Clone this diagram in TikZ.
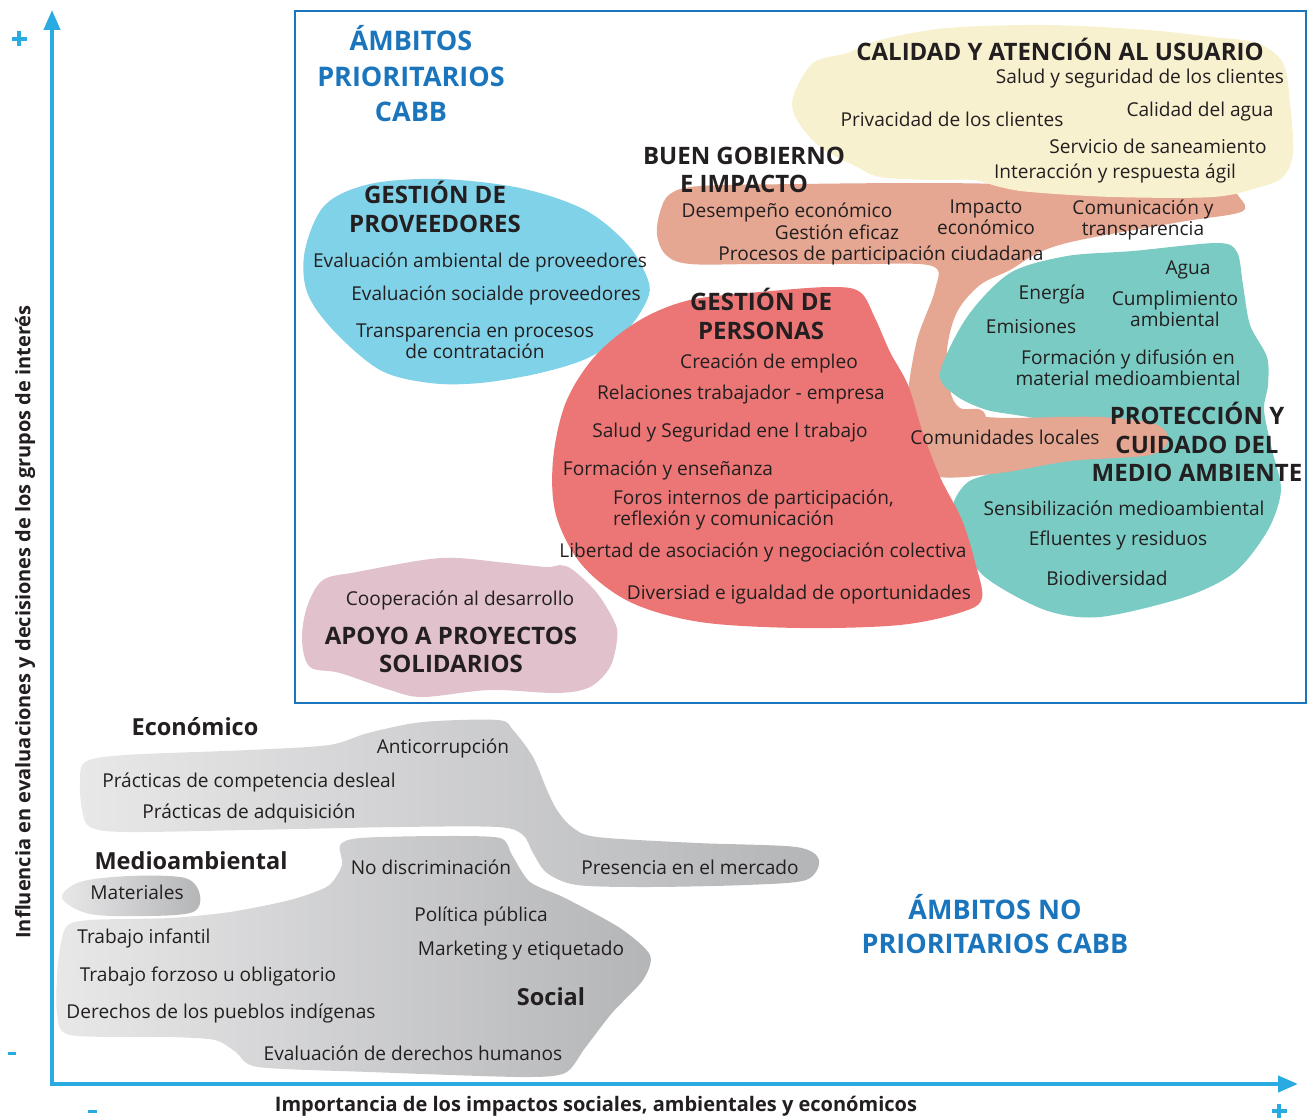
\documentclass[tikz,border=0pt]{standalone}
\usepackage{fontspec}
\setmainfont{Open Sans}
\usetikzlibrary{arrows.meta}
\definecolor{ink}{HTML}{231F20}
\definecolor{axis}{HTML}{29ABE2}
\definecolor{hblue}{HTML}{1B75BC}
\definecolor{yel}{HTML}{F8F1D0}
\definecolor{salm}{HTML}{E5A692}
\definecolor{redb}{HTML}{EC7676}
\definecolor{lblue}{HTML}{80D2E8}
\definecolor{teal}{HTML}{7ACBC3}
\definecolor{pinkb}{HTML}{E0C1CC}
\definecolor{gA}{HTML}{E8E8E9}
\definecolor{gB}{HTML}{B4B5B7}
\begin{document}
\begin{tikzpicture}[x=1pt,y=-1pt,
  every node/.style={inner sep=0pt,outer sep=0pt,text=ink},
  it/.style={font=\fontsize{19.1}{21}\selectfont, align=center, yshift=-2.5pt},
  hd/.style={font=\fontsize{24}{28.5}\selectfont\bfseries, align=center},
  bhd/.style={font=\fontsize{23.5}{28}\selectfont\bfseries, align=center},
  bl/.style={font=\fontsize{27}{35.5}\selectfont\bfseries, align=center, text=hblue},
  sym/.style={draw=axis, line width=3.5pt},
  axlab/.style={font=\fontsize{20}{22}\selectfont\bfseries},
  axline/.style={draw=axis, line width=4pt, -{Triangle[length=20pt,width=16pt]}},
  gray/.style={left color=gA, right color=gB}]
\useasboundingbox (0,0) rectangle (1308,1118);

% ---------- priority box ----------
\draw[hblue, line width=2pt] (295,11) rectangle (1306,703);

% salmon (buen gobierno) main
\fill[salm] plot[smooth cycle, tension=0.55] coordinates {
 (660,212) (670,194) (700,186) (800,184) (913,183) (1000,184) (1060,188) (1150,190) (1225,191) (1240,198) (1241,212) (1180,222) (1080,240) (1040,252) (1010,270) (980,285) (957,312) (947,350) (950,390) (960,408) (985,414)
 (985,470) (940,477) (920,472) (907,440) (907,400) (917,340) (935,290) (932,266) (860,264) (760,264) (690,264) (666,255) (657,235)};
% yellow (calidad)
\fill[yel] plot[smooth cycle, tension=0.55] coordinates {
 (793,97) (813,63) (847,53) (880,40) (947,28) (1047,25) (1147,30) (1213,37) (1257,43) (1283,63) (1290,103) (1293,153) (1283,177) (1260,187) (1213,197) (1113,197) (1030,192) (1000,187) (973,180) (930,180) (880,177) (857,167) (820,147) (797,120)};
% light blue (proveedores)
\fill[lblue] plot[smooth cycle, tension=0.55] coordinates {
 (305,250) (325,205) (370,184) (440,179) (520,188) (585,210) (628,245) (648,280) (647,300) (627,330) (590,357) (540,373) (480,383) (430,383) (380,370) (333,330) (307,292)};
% teal (medio ambiente)
\fill[teal] plot[smooth cycle, tension=0.5] coordinates {
 (940,373) (967,317) (1010,273) (1067,256) (1133,251) (1217,243) (1237,252) (1243,285) (1250,325) (1267,357) (1268,385) (1264,410) (1272,450) (1281,490) (1268,530) (1235,572) (1185,597) (1100,617) (1045,610) (985,577) (957,537) (953,505) (968,482) (1000,470) (1060,440) (1040,420) (987,410) (955,395)};
% salmon tongue (comunidades locales)
\fill[salm] plot[smooth cycle, tension=0.55] coordinates {
 (930,418) (1010,418) (1100,417) (1155,424) (1168,440) (1150,455) (1070,461) (1000,473) (940,477) (915,460)};
% red (personas)
\fill[redb] plot[smooth cycle, tension=0.55] coordinates {
 (640,320) (690,300) (760,292) (830,287) (860,292) (875,318) (890,352) (908,385) (922,430) (940,477) (962,520) (975,562) (982,598) (962,612) (900,625) (800,628) (700,622) (630,602) (582,565) (556,515) (553,460) (566,402) (596,355)};
% pink (apoyo)
\fill[pinkb] plot[smooth cycle, tension=0.55] coordinates {
 (323,580) (357,572) (423,560) (457,558) (507,563) (547,567) (560,565) (573,570) (597,593) (615,623) (617,640) (610,667) (590,687) (557,693) (490,690) (423,697) (390,690) (340,673) (310,667) (302,640) (307,607)};

% ---------- non priority grey areas ----------
\shade[gray] plot[smooth cycle, tension=0.5] coordinates {
 (85,762) (125,755) (249,750) (329,745) (368,733) (423,722) (498,720) (513,730) (533,757) (547,790) (557,810) (572,827) (597,837) (697,843) (796,847) (819,860) (806,880) (746,885) (647,887) (577,885) (547,873) (533,853) (523,835) (498,827) (398,827) (249,830) (125,832) (90,827) (82,810) (80,783)};
\shade[gray] plot[smooth cycle, tension=0.55] coordinates {
 (62,898) (80,882) (130,876) (185,878) (200,895) (193,912) (150,916) (90,914)};
\shade[gray] plot[smooth cycle, tension=0.45] coordinates {
 (340,845) (360,838) (440,836) (500,838) (512,855) (530,882) (565,898) (620,928) (650,955) (643,980) (612,1013) (585,1048) (565,1073) (520,1077) (370,1072) (258,1067) (236,1052) (215,1040) (170,1037) (70,1035) (57,1012) (58,963) (66,927) (90,920) (170,918) (230,912) (290,900) (328,886) (342,865)};

% ---------- axes ----------
\coordinate (origin) at (52,1085);
\coordinate (ytip) at (52,10);
\coordinate (xtip) at (1298,1084);
\draw[axline] (52,1086) -- (ytip);
\draw[axline] (50,1084) -- (xtip);
\coordinate (yplus) at (19,39);
\coordinate (yminus) at (12,1053.5);
\coordinate (xminus) at (92.5,1111);
\coordinate (xplus) at (1279,1111);
\draw[sym] ([xshift=-7.5pt]yplus) -- ([xshift=7.5pt]yplus) ([yshift=-7.5pt]yplus) -- ([yshift=7.5pt]yplus);
\draw[sym] ([xshift=-7.5pt]xplus) -- ([xshift=7.5pt]xplus) ([yshift=-7.5pt]xplus) -- ([yshift=7.5pt]xplus);
\draw[sym, line width=3pt] ([xshift=-4pt]yminus) -- ([xshift=4pt]yminus);
\draw[sym, line width=3pt] ([xshift=-4.5pt]xminus) -- ([xshift=4.5pt]xminus);
\node[axlab, rotate=90] (ylab) at (25,622) {Influencia en evaluaciones y decisiones de los grupos de interés};
\node[axlab] (xlab) at (596,1106) {Importancia de los impactos sociales, ambientales y económicos};

% ---------- titles ----------
\node[bl] (prio) at (411,74) {ÁMBITOS\\PRIORITARIOS\\CABB};
\node[bl, font=\fontsize{27}{34}\selectfont\bfseries] (noprio) at (995,924) {ÁMBITOS NO\\PRIORITARIOS CABB};

% calidad
\node[hd] (calidad) at (1060,49) {CALIDAD Y ATENCIÓN AL USUARIO};
\node[it] (c1) at (1140,76) {Salud y seguridad de los clientes};
\node[it] (c2) at (952,117) {Privacidad de los clientes};
\node[it] (c3) at (1200,109) {Calidad del agua};
\node[it] (c4) at (1158,144) {Servicio de saneamiento};
\node[it] (c5) at (1115,171) {Interacción y respuesta ágil};
% buen gobierno
\node[hd] (buen) at (744,170) {BUEN GOBIERNO\\E IMPACTO};
\node[it] (b1) at (787,210) {Desempeño económico};
\node[it] (b2) at (837,230) {Gestión eficaz};
\node[it] (b3) at (986,215) {Impacto\\económico};
\node[it] (b4) at (1143,217) {Comunicación y\\transparencia};
\node[it] (b5) at (881,253) {Procesos de participación ciudadana};
\node[it] (b6) at (1005,435) {Comunidades locales};
% proveedores
\node[hd] (prov) at (435,207) {GESTIÓN DE\\PROVEEDORES};
\node[it] (p1) at (480,260) {Evaluación ambiental de proveedores};
\node[it] (p2) at (496,293) {Evaluación socialde proveedores};
\node[it] (p3) at (475,339) {Transparencia en procesos\\de contratación};
% personas
\node[hd] (pers) at (761,314) {GESTIÓN DE\\PERSONAS};
\node[it] (r1) at (769,361) {Creación de empleo};
\node[it] (r2) at (741,392) {Relaciones trabajador - empresa};
\node[it] (r3) at (730,430) {Salud y Seguridad ene l trabajo};
\node[it] (r4) at (668,468) {Formación y enseñanza};
\node[it, anchor=west, align=left] (r5) at (613,507) {Foros internos de participación,\\reflexión y comunicación};
\node[it] (r6) at (763,550) {Libertad de asociación y negociación colectiva};
\node[it] (r7) at (799,592) {Diversiad e igualdad de oportunidades};
% medio ambiente
\node[it] (m1) at (1188,267) {Agua};
\node[it] (m2) at (1052,292) {Energía};
\node[it] (m3) at (1175,306) {Cumplimiento\\ambiental};
\node[it] (m4) at (1031,324) {Emisiones};
\node[it] (m5) at (1128,365) {Formación y difusión en\\material medioambiental};
\node[hd] (prot) at (1197,442) {PROTECCIÓN Y\\CUIDADO DEL\\MEDIO AMBIENTE};
\node[it] (m6) at (1124,506) {Sensibilización medioambiental};
\node[it] (m7) at (1118,538) {Efluentes y residuos};
\node[it] (m8) at (1107,576) {Biodiversidad};
% apoyo
\node[it] (a1) at (460,598) {Cooperación al desarrollo};
\node[hd] (apoyo) at (451,650) {APOYO A PROYECTOS\\SOLIDARIOS};

% ---------- non priority texts ----------
\node[bhd] (eco) at (195,727) {Económico};
\node[it] (e1) at (443,746) {Anticorrupción};
\node[it] (e2) at (249,780) {Prácticas de competencia desleal};
\node[it] (e3) at (249,811) {Prácticas de adquisición};
\node[it] (e4) at (690,865) {Presencia en el mercado};
\node[bhd] (med) at (191,861) {Medioambiental};
\node[it] (d1) at (137,890) {Materiales};
\node[it] (s1) at (431,865) {No discriminación};
\node[it] (s2) at (481,914) {Política pública};
\node[it] (s3) at (521,948) {Marketing y etiquetado};
\node[it] (s4) at (144,936) {Trabajo infantil};
\node[it] (s5) at (208,974) {Trabajo forzoso u obligatorio};
\node[it] (s6) at (221,1011) {Derechos de los pueblos indígenas};
\node[bhd] (soc) at (551,997) {Social};
\node[it] (s7) at (413,1051) {Evaluación de derechos humanos};
\end{tikzpicture}
\end{document}
